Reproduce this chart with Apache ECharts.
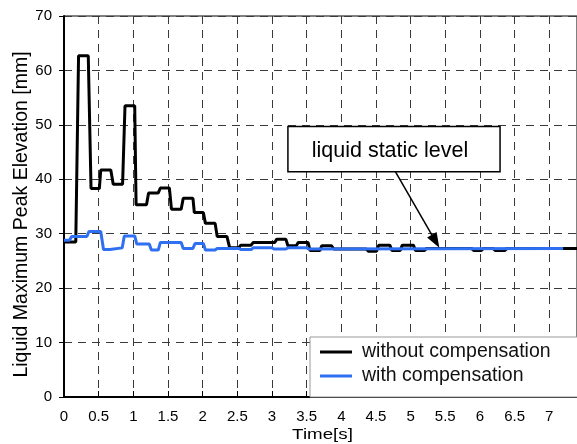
<!DOCTYPE html>
<html>
<head>
<meta charset="utf-8">
<script src="https://cdn.jsdelivr.net/npm/echarts@6/dist/echarts.min.js"></script>
<style>
html,body{margin:0;padding:0;background:#fff;}
#c{width:577px;height:444px;}
</style>
</head>
<body>
<div id="c"></div>
<script>
// ---- data ----
const seriesNames = ['without compensation', 'with compensation'];
const xTitle = 'Time[s]';
const yTitle = 'Liquid Maximum Peak Elevation [mm]';
const annotationText = 'liquid static level';

// [time s, elevation mm]
const withoutComp = [
  [0,28.5],[0.17,28.5],[0.21,62.7],[0.35,62.7],[0.39,38.3],[0.51,38.3],[0.53,41.7],[0.675,41.7],
  [0.71,39.1],[0.845,39.1],[0.88,53.5],[1.02,53.5],[1.04,35.3],[1.19,35.3],[1.22,37.5],[1.36,37.5],
  [1.39,38.4],[1.52,38.4],[1.55,34.5],[1.69,34.5],[1.72,36.5],[1.86,36.5],[1.88,33.9],[2.01,33.9],
  [2.04,31.9],[2.18,31.9],[2.21,29.5],[2.35,29.5],[2.39,27.4],[2.52,27.4],[2.55,27.9],[2.70,27.9],
  [2.73,28.4],[3.04,28.4],[3.07,29.0],[3.20,29.0],[3.23,27.8],[3.35,27.8],[3.38,28.4],[3.52,28.4],
  [3.55,26.9],[3.69,26.9],[3.72,27.8],[3.86,27.8],[3.89,27.2],[4.36,27.2],[4.39,26.8],[4.51,26.8],
  [4.54,27.9],[4.70,27.9],[4.73,26.9],[4.85,26.9],[4.88,27.9],[5.04,27.9],[5.07,26.9],[5.20,26.9],
  [5.23,27.3],[5.88,27.3],[5.91,26.9],[6.02,26.9],[6.05,27.3],[6.19,27.3],[6.22,26.9],[6.36,26.9],
  [6.39,27.3],[7.4,27.3]
];
const withComp = [
  [0,28.8],[0.08,28.8],[0.11,29.5],[0.33,29.5],[0.36,30.4],[0.53,30.4],[0.57,27.1],[0.66,27.1],
  [0.68,27.4],[0.84,27.4],[0.87,29.6],[1.02,29.6],[1.05,28.1],[1.23,28.1],[1.26,27.0],[1.36,27.0],
  [1.39,28.4],[1.69,28.4],[1.72,27.3],[1.86,27.3],[1.89,28.2],[2.01,28.2],[2.04,27.0],[2.18,27.0],
  [2.21,27.3],[2.52,27.3],[2.55,27.1],[2.70,27.1],[2.73,27.4],[3.00,27.4],[3.03,27.2],[3.20,27.2],
  [3.23,27.4],[3.50,27.4],[3.53,27.2],[7.2,27.3]
];
// annotation anchors in data space
const arrowFrom = [4.78, 41.4];
const arrowTo = [5.36, 28.6];
const boxTopLeft = [3.23, 49.7];
const boxBottomRight = [6.29, 41.4];

const FONT = '"Liberation Sans", Arial, sans-serif';
const chart = echarts.init(document.getElementById('c'), null, {renderer: 'canvas'});
const gridDash = {type: [8, 6], color: '#3a3a3a', width: 1};

chart.setOption({
  animation: false,
  backgroundColor: '#fff',
  textStyle: {fontFamily: FONT},
  grid: {left: 64, top: 16, right: 0, bottom: 47, show: true, borderColor: '#000', borderWidth: 1, containLabel: false},
  legend: {
    data: seriesNames,
    orient: 'vertical',
    left: 310, top: 337,
    padding: [5, 60, 11, 10],
    icon: 'rect',
    itemWidth: 32, itemHeight: 3, itemGap: 4,
    backgroundColor: '#fff', borderColor: '#999', borderWidth: 1, borderRadius: 0,
    textStyle: {fontSize: 19.5, color: '#111', fontFamily: FONT, lineHeight: 19, padding: [0, 0, 0, 5]}
  },
  xAxis: {
    type: 'value', min: 0, max: 7.4, interval: 0.5,
    axisLine: {lineStyle: {color: '#000', width: 2}},
    axisTick: {inside: true, length: 6, lineStyle: {color: '#000', width: 1}},
    splitLine: {show: true, lineStyle: gridDash},
    axisLabel: {
      fontSize: 15, color: '#000', margin: 12, fontFamily: FONT, showMaxLabel: false,
      formatter: v => (Math.abs(v * 2 - Math.round(v * 2)) < 1e-6 ? String(v) : '')
    }
  },
  yAxis: {
    type: 'value', min: 0, max: 70, interval: 10,
    axisLine: {show: true, lineStyle: {color: '#000', width: 2}},
    axisTick: {show: true, inside: false, length: 5, lineStyle: {color: '#000', width: 1}},
    splitLine: {show: true, lineStyle: gridDash},
    axisLabel: {fontSize: 15, color: '#000', margin: 12, fontFamily: FONT}
  },
  series: [
    {
      name: seriesNames[0], type: 'line', data: withoutComp, symbol: 'none',
      lineStyle: {color: '#000', width: 3}, itemStyle: {color: '#000'}, z: 3,
      markLine: {
        silent: true, symbol: ['none', 'triangle'], symbolSize: [11, 15],
        lineStyle: {color: '#000', width: 1.5, type: 'solid'},
        label: {show: false},
        data: [[{coord: arrowFrom}, {coord: arrowTo}]]
      }
    },
    {
      name: seriesNames[1], type: 'line', data: withComp, symbol: 'none',
      lineStyle: {color: '#2f6ff2', width: 3}, itemStyle: {color: '#2f6ff2'}, z: 4
    }
  ]
});

const p1 = chart.convertToPixel({gridIndex: 0}, boxTopLeft);
const p2 = chart.convertToPixel({gridIndex: 0}, boxBottomRight);
chart.setOption({
  graphic: [
    {
      type: 'rect', z: 100,
      shape: {x: p1[0], y: p1[1], width: p2[0] - p1[0], height: p2[1] - p1[1]},
      style: {fill: '#fff', stroke: '#000', lineWidth: 1.5}
    },
    {
      type: 'text', z: 101,
      x: (p1[0] + p2[0]) / 2 - 4, y: (p1[1] + p2[1]) / 2 + 2,
      style: {text: annotationText, fontSize: 21.5, fontFamily: FONT, fill: '#000',
              align: 'center', verticalAlign: 'middle', textAlign: 'center', textVerticalAlign: 'middle'}
    },
    {
      type: 'text', z: 101, x: 22, y: 214.5, rotation: Math.PI / 2,
      style: {text: yTitle, fontSize: 19.5, fontFamily: FONT, fill: '#000',
              align: 'center', verticalAlign: 'middle', textAlign: 'center', textVerticalAlign: 'middle'}
    },
    {
      type: 'text', z: 101, x: 322.5, y: 427, scaleX: 1.25,
      style: {text: xTitle, fontSize: 15, fontFamily: FONT, fill: '#000',
              align: 'center', verticalAlign: 'top', textAlign: 'center', textVerticalAlign: 'top'}
    }
  ]
});
</script>
</body>
</html>
